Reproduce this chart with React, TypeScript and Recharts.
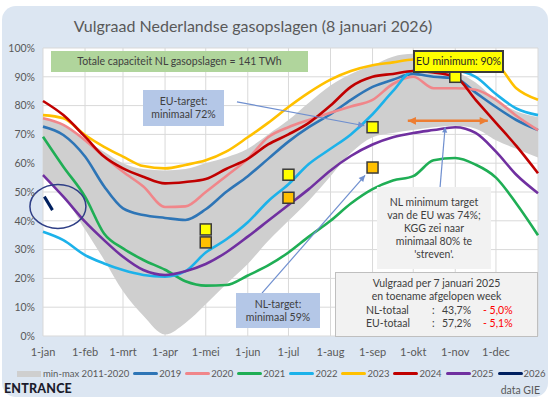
import React from 'react'
import {
  ComposedChart, Line, Area, Scatter, XAxis, YAxis, CartesianGrid, ReferenceLine, ReferenceDot,
} from 'recharts'

const FONT = 'Lato, "Noto Sans", sans-serif'
const TXT = '#595959'

// day of year for each sample
const days = [0, 15, 31, 45, 59, 74, 90, 105, 120, 135, 151, 166, 181, 196, 212, 227, 243, 258, 273, 288, 304, 319, 334, 349, 365]

const bandLow = [56, 49, 37, 26.5, 15.5, 7, 0.5, 4.5, 11, 18, 25, 33, 40, 47, 55.5, 63.5, 69, 70.5, 71.5, 72.5, 73, 72, 68, 65, 62]
const bandHigh = [76, 73, 68, 64, 60, 58, 57.5, 58, 60, 62, 65, 70, 75, 81, 87, 91, 94, 97, 98, 96, 92, 88, 82, 78, 76]

const s2019 = [72.7, 69.8, 62.3, 52, 44.3, 42, 41, 40.3, 44, 50, 55.5, 61.5, 67.5, 72.5, 77, 82, 86.5, 89, 91, 90, 89.5, 84.5, 79.5, 75, 71.5]
const s2020 = [75.6, 73.3, 68, 62.3, 57, 51.9, 44.8, 45, 50, 55.5, 61.5, 69, 72.5, 75, 77.5, 79.7, 82, 87.5, 90, 86, 86, 85.5, 82, 76.5, 71.5]
const s2021 = [69.2, 58.8, 48.4, 35.6, 30.4, 26.4, 23, 19, 17.5, 17.7, 21, 24.5, 29, 34.5, 40, 46, 51, 54, 55.5, 61, 61.8, 59.5, 55, 46, 35]
const s2022 = [36.2, 33.3, 28.1, 25.2, 22.9, 21.2, 20.6, 22.5, 29, 33.5, 39.5, 46.8, 52.7, 59.7, 65, 70, 77, 85, 92, 92, 92, 90, 84, 79, 76.7]
const s2023 = [76.7, 75.6, 69.8, 65.7, 62.3, 59, 58.2, 59.4, 61, 64, 69, 74, 79.5, 84.5, 89, 92, 94, 95, 96, 96, 96, 96, 94.5, 86, 82]
const s2024 = [81.6, 76.7, 69.2, 62.3, 58.2, 55.3, 53, 53.5, 54.5, 58, 61.5, 66.5, 70, 74, 80, 86.5, 90, 91, 92, 91.5, 90, 82, 74, 66, 56.5]
const s2025 = [55.9, 48.4, 39.7, 33.3, 27.5, 22.9, 21.2, 22.5, 25, 29, 34.5, 40, 45.5, 51, 57.5, 62.5, 66.5, 69, 70.5, 71.5, 72.5, 70.5, 64, 56, 49.6]

const days2026 = [1, 7]
const s2026 = [48.4, 43.7]

// storage targets (day, %)
const euTargetDays = [120, 181, 243, 304]
const euTargetVals = [37, 56, 72.5, 90]
const nlTargetDays = [120, 181, 243]
const nlTargetVals = [32.5, 48, 58.5]

const monthTicks = [0, 31, 59, 90, 120, 151, 181, 212, 243, 273, 304, 334]
const monthLabels = ['1-jan', '1-feb', '1-mrt', '1-apr', '1-mei', '1-jun', '1-jul', '1-aug', '1-sep', '1-okt', '1-nov', '1-dec']
const yTicks = [0, 10, 20, 30, 40, 50, 60, 70, 80, 90, 100]

const seriesNames = ['2019', '2020', '2021', '2022', '2023', '2024', '2025']
const seriesValues = [s2019, s2020, s2021, s2022, s2023, s2024, s2025]
const seriesColors = ['#2e75b6', '#f0868a', '#1fae55', '#1cb2ea', '#ffc000', '#c00000', '#7030a0']

const rows = days.map((d, i) => {
  const r: Record<string, unknown> = { day: d, band: [bandLow[i], bandHigh[i]] }
  seriesNames.forEach((n, k) => { r[n] = seriesValues[k][i] })
  return r
})
const rows2026 = days2026.map((d, i) => ({ day: d, v: s2026[i] }))
const euPts = euTargetDays.map((d, i) => ({ day: d, v: euTargetVals[i] }))
const nlPts = nlTargetDays.map((d, i) => ({ day: d, v: nlTargetVals[i] }))

const arrowHead = (x1: number, y1: number, x2: number, y2: number, size: number) => {
  const a = Math.atan2(y2 - y1, x2 - x1)
  const p1 = [x2 - size * Math.cos(a - 0.45), y2 - size * Math.sin(a - 0.45)]
  const p2 = [x2 - size * Math.cos(a + 0.45), y2 - size * Math.sin(a + 0.45)]
  return `${x2},${y2} ${p1[0]},${p1[1]} ${p2[0]},${p2[1]}`
}

const makeArrow = (color: string, width: number, both: boolean, size: number) =>
  // eslint-disable-next-line @typescript-eslint/no-explicit-any
  (p: any) => (
    <g>
      <line x1={p.x1} y1={p.y1} x2={p.x2} y2={p.y2} stroke={color} strokeWidth={width} />
      <polygon points={arrowHead(p.x1, p.y1, p.x2, p.y2, size)} fill={color} />
      {both && <polygon points={arrowHead(p.x2, p.y2, p.x1, p.y1, size)} fill={color} />}
    </g>
  )

// eslint-disable-next-line @typescript-eslint/no-explicit-any
const square = (fill: string) => (p: any) => (
  <rect x={p.cx - 5.5} y={p.cy - 5.5} width={11} height={11} fill={fill} stroke="#3a3a3a" strokeWidth={1.5} />
)

// eslint-disable-next-line @typescript-eslint/no-explicit-any
const ellipse = (p: any) => (
  <ellipse cx={p.cx} cy={p.cy} rx={28} ry={22} fill="none" stroke="#2f3f86" strokeWidth={1.5} />
)

const box = (extra: React.CSSProperties): React.CSSProperties => ({
  position: 'absolute', display: 'flex', flexDirection: 'column', alignItems: 'center', justifyContent: 'center',
  fontFamily: FONT, fontSize: 10.5, color: '#404040', lineHeight: '13px', textAlign: 'center', ...extra,
})

export default function App() {
  return (
    <div style={{ position: 'absolute', left: 0, top: 0, width: 555, height: 400, background: '#fff', overflow: 'hidden' }}>
      <div style={{ position: 'absolute', left: 2, top: 6, width: 546, height: 391, background: '#dce6f2', borderRadius: 14 }} />
      <div style={{ position: 'absolute', left: 0, width: 506, top: 16, textAlign: 'center', fontFamily: FONT, fontSize: 16, color: TXT }}>
        Vulgraad Nederlandse gasopslagen (8 januari 2026)
      </div>
      <div style={{ position: 'absolute', left: 0, top: 0 }}>
        <ComposedChart width={555} height={400} data={rows} margin={{ top: 48, right: 17, bottom: 44, left: 3 }}>
          <CartesianGrid stroke="#d9d9d9" fill="#fff" />
          <XAxis
            dataKey="day" type="number" domain={[0, 365]} ticks={monthTicks} interval={0}
            tickFormatter={(v: number) => monthLabels[monthTicks.indexOf(v)] ?? ''}
            axisLine={false} tickLine={false} tickSize={0} tickMargin={12} height={20}
            tick={{ fill: TXT, fontSize: 11, fontFamily: FONT }}
          />
          <YAxis
            type="number" domain={[0, 100]} ticks={yTicks} width={40}
            tickFormatter={(v: number) => `${v}%`}
            axisLine={false} tickLine={false} tickSize={0} tickMargin={8}
            tick={{ fill: TXT, fontSize: 10.5, fontFamily: FONT }}
          />
          <Area dataKey="band" type="monotone" fill="#cfcfcf" fillOpacity={1} stroke="none" isAnimationActive={false} />
          {seriesNames.map((n, k) => (
            <Line key={n} dataKey={n} type="monotone" stroke={seriesColors[k]} strokeWidth={2.6} dot={false} isAnimationActive={false} />
          ))}
          <Line data={rows2026} dataKey="v" type="linear" stroke="#002060" strokeWidth={3} dot={false} isAnimationActive={false} />
          <ReferenceDot x={11} y={45} shape={ellipse} />
          <ReferenceLine segment={[{ x: 143, y: 81.3 }, { x: 237, y: 73 }]} shape={makeArrow('#6f8fcf', 1.2, false, 7)} />
          <ReferenceLine segment={[{ x: 161.5, y: 14.9 }, { x: 237.5, y: 55.8 }]} shape={makeArrow('#6f8fcf', 1.2, false, 7)} />
          <ReferenceLine segment={[{ x: 292.8, y: 51.7 }, { x: 296.5, y: 72.5 }]} shape={makeArrow('#6f8fcf', 1.2, false, 6)} />
          <ReferenceLine segment={[{ x: 269, y: 74.7 }, { x: 328, y: 74.7 }]} shape={makeArrow('#ed7d31', 2.5, true, 9)} />
          <Scatter data={euPts} dataKey="v" shape={square('#ffff00')} isAnimationActive={false} />
          <Scatter data={nlPts} dataKey="v" shape={square('#ffc000')} isAnimationActive={false} />
        </ComposedChart>
      </div>

      <div style={box({ left: 51, top: 51, width: 257, height: 21, background: '#b0d59c' })}>
        Totale capaciteit NL gasopslagen = 141 TWh
      </div>
      <div style={box({ left: 143, top: 90, width: 81, height: 36, background: '#b4c7e7' })}>
        <div>EU-target:</div>
        <div>minimaal 72%</div>
      </div>
      <div style={box({ left: 413, top: 50, width: 87, height: 19, background: '#ffff00', border: '2px solid #3a3a3a', color: '#262626' })}>
        EU minimum: 90%
      </div>
      <div style={box({ left: 236, top: 293, width: 84, height: 35, background: '#b4c7e7' })}>
        <div>NL-target:</div>
        <div>minimaal 59%</div>
      </div>
      <div style={box({ left: 377, top: 187, width: 114, height: 82, background: '#f2f2f2' })}>
        <div>NL minimum target</div>
        <div>van de EU was 74%;</div>
        <div>KGG zei naar</div>
        <div>minimaal 80% te</div>
        <div>'streven'.</div>
      </div>
      <div style={{ position: 'absolute', left: 335, top: 272, width: 201, height: 63, background: '#f2f2f2', border: '1px solid #bfbfbf', fontFamily: FONT, fontSize: 10.5, color: '#404040', lineHeight: '13.3px' }}>
        <div style={{ textAlign: 'center', marginTop: 4 }}>Vulgraad per 7 januari 2025</div>
        <div style={{ textAlign: 'center' }}>en toename afgelopen week</div>
        <div style={{ display: 'flex' }}>
          <span style={{ marginLeft: 30, width: 66 }}>NL-totaal</span>
          <span style={{ width: 10 }}>:</span>
          <span style={{ width: 41 }}>43,7%</span>
          <span style={{ color: '#ff0000' }}>- 5,0%</span>
        </div>
        <div style={{ display: 'flex' }}>
          <span style={{ marginLeft: 30, width: 66 }}>EU-totaal</span>
          <span style={{ width: 10 }}>:</span>
          <span style={{ width: 41 }}>57,2%</span>
          <span style={{ color: '#ff0000' }}>- 5,1%</span>
        </div>
      </div>

      <div style={{ position: 'absolute', left: 17, top: 368, display: 'flex', alignItems: 'center', gap: 4, whiteSpace: 'nowrap', fontFamily: FONT, fontSize: 9.5, color: TXT }}>
        <span style={{ display: 'flex', alignItems: 'center', gap: 2 }}>
          <span style={{ width: 24, height: 6, background: '#cfcfcf' }} />
          min-max 2011-2020
        </span>
        {[...seriesNames, '2026'].map((n, k) => (
          <span key={n} style={{ display: 'flex', alignItems: 'center', gap: 1 }}>
            <span style={{ width: 25, height: 3, borderRadius: 2, background: k < seriesColors.length ? seriesColors[k] : '#002060' }} />
            {n}
          </span>
        ))}
      </div>
      <div style={{ position: 'absolute', left: 4, top: 381, fontFamily: FONT, fontWeight: 900, fontSize: 12.5, color: '#1c1c2c', letterSpacing: 0.2 }}>
        ENTRANCE
      </div>
      <div style={{ position: 'absolute', right: 15, top: 384, fontFamily: FONT, fontSize: 10.5, color: TXT }}>
        data GIE
      </div>
    </div>
  )
}
